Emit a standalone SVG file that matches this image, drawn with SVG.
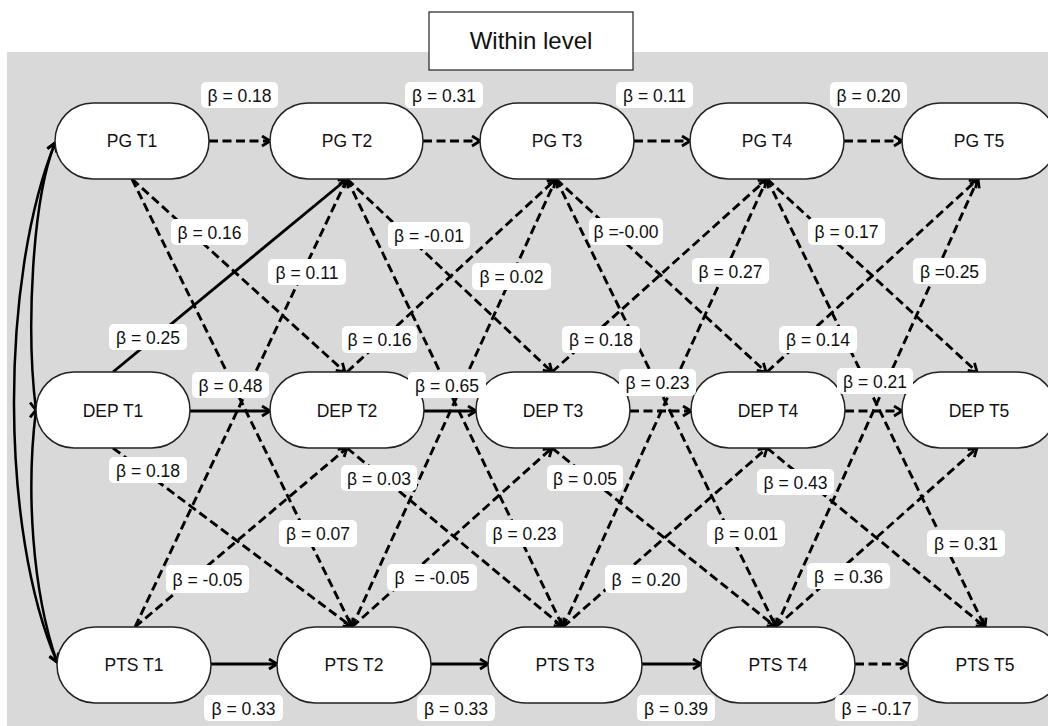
<svg xmlns="http://www.w3.org/2000/svg" width="1048" height="726" viewBox="0 0 1048 726">
  <defs>
    <marker id="ah" viewBox="0 0 11 13" refX="9.5" refY="6.5" markerWidth="11" markerHeight="13" markerUnits="userSpaceOnUse" orient="auto-start-reverse">
      <path d="M1.5,1.5 L9.5,6.5 L1.5,11.5" fill="none" stroke="#000" stroke-width="2.8" stroke-dasharray="none" stroke-linejoin="miter"/>
    </marker>
    <clipPath id="frame">
      <rect x="0" y="0" width="1048" height="726"/>
    </clipPath>
  </defs>
  <style>
    .bg { fill: #d9d9d9; }
    .title-box { fill: #fff; stroke: #222; stroke-width: 1.2; }
    .title { font-family: "Liberation Sans", Arial, sans-serif; font-size: 24px; fill: #111; text-anchor: middle; }
    .node rect { fill: #fff; stroke: #222; stroke-width: 1.5; }
    .node text { font-family: "Liberation Sans", Arial, sans-serif; font-size: 17.5px; fill: #111; text-anchor: middle; }
    .edge { fill: none; stroke: #000; stroke-width: 2.9; marker-end: url(#ah); }
    .dash { stroke-dasharray: 9 4.5; }
    .cov { fill: none; stroke: #000; stroke-width: 2.5; marker-start: url(#ah); marker-end: url(#ah); }
    .lbl rect { fill: #fff; }
    .lbl text { font-family: "Liberation Sans", Arial, sans-serif; font-size: 17.5px; fill: #111; text-anchor: middle; white-space: pre; }
  </style>

  <!-- panel background -->
  <rect class="bg" x="7" y="52" width="1041" height="674"/>

  <!-- panel title -->
  <g id="title">
    <rect class="title-box" x="429" y="12" width="204" height="58"/>
    <text class="title" x="531" y="49">Within level</text>
  </g>

  <g id="connectors" clip-path="url(#frame)">
    <!-- covariances among T1 measures -->
    <path class="cov" d="M55,143 C0,280 0,530 57,662"/>
    <path class="cov" d="M55,143 C32,200 26,330 36,410"/>
    <path class="cov" d="M36,410 C26,490 32,590 57,662"/>

    <!-- autoregressive paths: PG -->
    <line class="edge dash" x1="209" y1="141" x2="270" y2="141"/>
    <line class="edge dash" x1="423" y1="141" x2="480" y2="141"/>
    <line class="edge dash" x1="634" y1="141" x2="690" y2="141"/>
    <line class="edge dash" x1="844" y1="141" x2="902" y2="141"/>
    <!-- autoregressive paths: DEP -->
    <line class="edge" x1="190" y1="411" x2="270" y2="411"/>
    <line class="edge" x1="424" y1="411" x2="476" y2="411"/>
    <line class="edge dash" x1="630" y1="411" x2="691" y2="411"/>
    <line class="edge dash" x1="845" y1="411" x2="902" y2="411"/>
    <!-- autoregressive paths: PTS -->
    <line class="edge" x1="211" y1="664" x2="277" y2="664"/>
    <line class="edge" x1="431" y1="664" x2="488" y2="664"/>
    <line class="edge" x1="642" y1="664" x2="701" y2="664"/>
    <line class="edge dash" x1="855" y1="664" x2="908" y2="664"/>

    <!-- cross-lagged T1 -> T2 -->
    <line class="edge dash" x1="132" y1="179" x2="345" y2="372"/>
    <line class="edge dash" x1="132" y1="179" x2="352" y2="627"/>
    <line class="edge" x1="113" y1="372" x2="347" y2="179"/>
    <line class="edge dash" x1="113" y1="448" x2="352" y2="627"/>
    <line class="edge dash" x1="135" y1="627" x2="347" y2="179"/>
    <line class="edge dash" x1="135" y1="627" x2="347" y2="448"/>

    <!-- cross-lagged T2 -> T3 -->
    <line class="edge dash" x1="347" y1="179" x2="552" y2="372"/>
    <line class="edge dash" x1="347" y1="179" x2="563" y2="627"/>
    <line class="edge dash" x1="347" y1="372" x2="556" y2="179"/>
    <line class="edge dash" x1="347" y1="448" x2="563" y2="627"/>
    <line class="edge dash" x1="352" y1="627" x2="556" y2="179"/>
    <line class="edge dash" x1="352" y1="627" x2="552" y2="448"/>

    <!-- cross-lagged T3 -> T4 -->
    <line class="edge dash" x1="556" y1="179" x2="766" y2="372"/>
    <line class="edge dash" x1="556" y1="179" x2="776" y2="627"/>
    <line class="edge dash" x1="552" y1="372" x2="767" y2="179"/>
    <line class="edge dash" x1="552" y1="448" x2="776" y2="627"/>
    <line class="edge dash" x1="563" y1="627" x2="767" y2="179"/>
    <line class="edge dash" x1="563" y1="627" x2="767" y2="448"/>

    <!-- cross-lagged T4 -> T5 -->
    <line class="edge dash" x1="767" y1="179" x2="977" y2="372"/>
    <line class="edge dash" x1="767" y1="179" x2="985" y2="627"/>
    <line class="edge dash" x1="767" y1="372" x2="978" y2="179"/>
    <line class="edge dash" x1="767" y1="448" x2="985" y2="627"/>
    <line class="edge dash" x1="776" y1="627" x2="978" y2="179"/>
    <line class="edge dash" x1="776" y1="627" x2="977" y2="448"/>
  </g>

  <!-- measures -->
  <g clip-path="url(#frame)">
    <g id="pg-t1" class="node"><rect x="55" y="103" width="154" height="76" rx="38"/><text x="132" y="147">PG T1</text></g>
    <g id="pg-t2" class="node"><rect x="270" y="103" width="153" height="76" rx="38"/><text x="347" y="147">PG T2</text></g>
    <g id="pg-t3" class="node"><rect x="480" y="103" width="154" height="76" rx="38"/><text x="557" y="147">PG T3</text></g>
    <g id="pg-t4" class="node"><rect x="690" y="103" width="154" height="76" rx="38"/><text x="767" y="147">PG T4</text></g>
    <g id="pg-t5" class="node"><rect x="902" y="103" width="154" height="76" rx="38"/><text x="979" y="147">PG T5</text></g>

    <g id="dep-t1" class="node"><rect x="36" y="372" width="154" height="76" rx="38"/><text x="113" y="417">DEP T1</text></g>
    <g id="dep-t2" class="node"><rect x="270" y="372" width="154" height="76" rx="38"/><text x="347" y="417">DEP T2</text></g>
    <g id="dep-t3" class="node"><rect x="476" y="372" width="154" height="76" rx="38"/><text x="553" y="417">DEP T3</text></g>
    <g id="dep-t4" class="node"><rect x="691" y="372" width="154" height="76" rx="38"/><text x="768" y="417">DEP T4</text></g>
    <g id="dep-t5" class="node"><rect x="902" y="372" width="154" height="76" rx="38"/><text x="979" y="417">DEP T5</text></g>

    <g id="pts-t1" class="node"><rect x="57" y="627" width="154" height="76" rx="38"/><text x="134" y="671">PTS T1</text></g>
    <g id="pts-t2" class="node"><rect x="277" y="627" width="154" height="76" rx="38"/><text x="354" y="671">PTS T2</text></g>
    <g id="pts-t3" class="node"><rect x="488" y="627" width="154" height="76" rx="38"/><text x="565" y="671">PTS T3</text></g>
    <g id="pts-t4" class="node"><rect x="701" y="627" width="154" height="76" rx="38"/><text x="778" y="671">PTS T4</text></g>
    <g id="pts-t5" class="node"><rect x="908" y="627" width="154" height="76" rx="38"/><text x="985" y="671">PTS T5</text></g>
  </g>

  <!-- path coefficients -->
  <g id="labels">
    <g class="lbl"><rect x="201" y="82" width="77" height="26" rx="5"/><text x="239.5" y="101.5">β = 0.18</text></g>
    <g class="lbl"><rect x="405" y="82" width="78" height="26" rx="5"/><text x="444" y="101.5">β = 0.31</text></g>
    <g class="lbl"><rect x="616" y="82" width="77" height="26" rx="5"/><text x="654.5" y="101.5">β = 0.11</text></g>
    <g class="lbl"><rect x="830" y="82" width="77" height="26" rx="5"/><text x="868.5" y="101.5">β = 0.20</text></g>

    <g class="lbl"><rect x="171" y="219" width="77" height="26" rx="5"/><text x="209.5" y="238.5">β = 0.16</text></g>
    <g class="lbl"><rect x="268" y="259" width="78" height="26" rx="5"/><text x="307" y="278.5">β = 0.11</text></g>
    <g class="lbl"><rect x="109" y="324" width="78" height="26" rx="5"/><text x="148" y="343.5">β = 0.25</text></g>
    <g class="lbl"><rect x="192" y="372" width="77" height="26" rx="5"/><text x="230.5" y="391.5">β = 0.48</text></g>
    <g class="lbl"><rect x="109" y="457" width="78" height="26" rx="5"/><text x="148" y="476.5">β = 0.18</text></g>

    <g class="lbl"><rect x="388" y="222" width="82" height="27" rx="5"/><text x="429" y="242">β = -0.01</text></g>
    <g class="lbl"><rect x="589" y="218" width="74" height="27" rx="5"/><text x="626" y="238">β =-0.00</text></g>
    <g class="lbl"><rect x="808" y="218" width="77" height="27" rx="5"/><text x="846.5" y="238">β = 0.17</text></g>
    <g class="lbl"><rect x="472" y="263" width="79" height="27" rx="5"/><text x="511.5" y="283">β = 0.02</text></g>
    <g class="lbl"><rect x="342" y="326" width="75" height="27" rx="5"/><text x="379.5" y="346">β = 0.16</text></g>
    <g class="lbl"><rect x="562" y="326" width="78" height="27" rx="5"/><text x="601" y="346">β = 0.18</text></g>
    <g class="lbl"><rect x="408" y="372" width="78" height="26" rx="5"/><text x="447" y="391.5">β = 0.65</text></g>
    <g class="lbl"><rect x="619" y="369" width="77" height="27" rx="5"/><text x="657.5" y="389">β = 0.23</text></g>
    <g class="lbl"><rect x="692" y="258" width="77" height="26" rx="5"/><text x="730.5" y="277.5">β = 0.27</text></g>
    <g class="lbl"><rect x="913" y="258" width="73" height="26" rx="5"/><text x="949.5" y="277.5">β =0.25</text></g>
    <g class="lbl"><rect x="779" y="326" width="78" height="27" rx="5"/><text x="818" y="346">β = 0.14</text></g>
    <g class="lbl"><rect x="837" y="368" width="76" height="26" rx="5"/><text x="875" y="387.5">β = 0.21</text></g>

    <g class="lbl"><rect x="341" y="465" width="76" height="26" rx="5"/><text x="379" y="484.5">β = 0.03</text></g>
    <g class="lbl"><rect x="547" y="465" width="76" height="26" rx="5"/><text x="585" y="484.5">β = 0.05</text></g>
    <g class="lbl"><rect x="757" y="469" width="77" height="26" rx="5"/><text x="795.5" y="488.5">β = 0.43</text></g>
    <g class="lbl"><rect x="279" y="520" width="78" height="27" rx="5"/><text x="318" y="540">β = 0.07</text></g>
    <g class="lbl"><rect x="486" y="520" width="77" height="27" rx="5"/><text x="524.5" y="540">β = 0.23</text></g>
    <g class="lbl"><rect x="707" y="520" width="78" height="27" rx="5"/><text x="746" y="540">β = 0.01</text></g>
    <g class="lbl"><rect x="927" y="530" width="78" height="27" rx="5"/><text x="966" y="550">β = 0.31</text></g>
    <g class="lbl"><rect x="166" y="565" width="83" height="28" rx="5"/><text x="207.5" y="585.5">β = -0.05</text></g>
    <g class="lbl"><rect x="387" y="564" width="90" height="27" rx="5"/><text x="432" y="584">β  = -0.05</text></g>
    <g class="lbl"><rect x="605" y="565" width="82" height="28" rx="5"/><text x="646" y="585.5">β  = 0.20</text></g>
    <g class="lbl"><rect x="807" y="563" width="83" height="26" rx="5"/><text x="848.5" y="582.5">β  = 0.36</text></g>

    <g class="lbl"><rect x="204" y="695" width="79" height="26" rx="5"/><text x="243.5" y="714.5">β = 0.33</text></g>
    <g class="lbl"><rect x="417" y="695" width="78" height="26" rx="5"/><text x="456" y="714.5">β = 0.33</text></g>
    <g class="lbl"><rect x="637" y="695" width="78" height="26" rx="5"/><text x="676" y="714.5">β = 0.39</text></g>
    <g class="lbl"><rect x="835" y="695" width="83" height="26" rx="5"/><text x="876.5" y="714.5">β = -0.17</text></g>
  </g>
</svg>
